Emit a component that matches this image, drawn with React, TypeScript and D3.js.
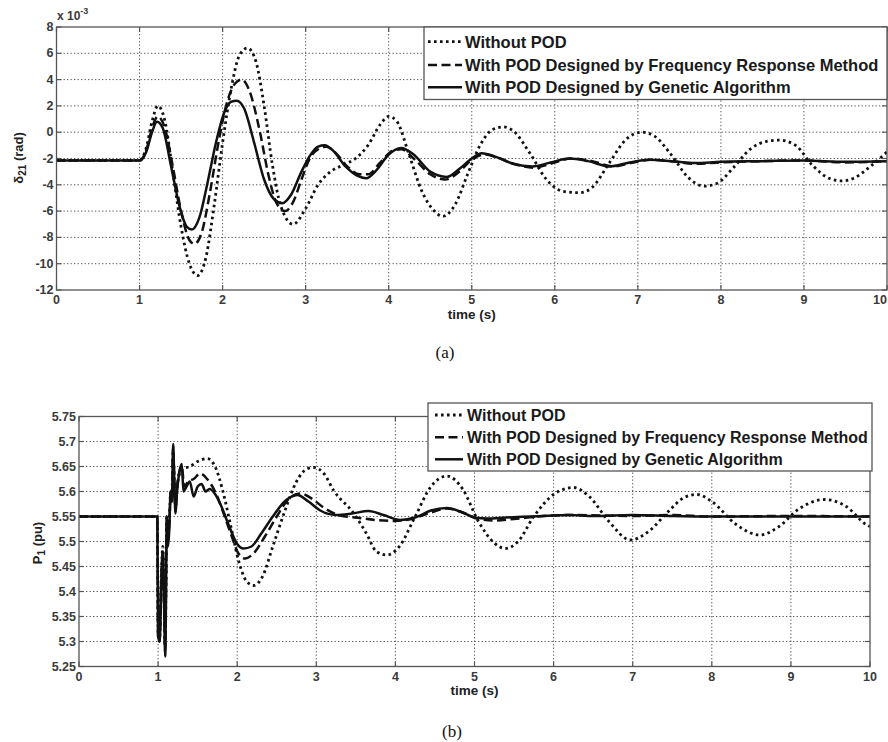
import React from "react";
import * as d3 from "d3";

type P = [number, number];

// ---------- DATA ----------
const xTicks = [0, 1, 2, 3, 4, 5, 6, 7, 8, 9, 10];
const topYTicks = [8, 6, 4, 2, 0, -2, -4, -6, -8, -10, -12];
const botYTicks = [5.75, 5.7, 5.65, 5.6, 5.55, 5.5, 5.45, 5.4, 5.35, 5.3, 5.25];
const botYTickLabels = ["5.75", "5.7", "5.65", "5.6", "5.55", "5.5", "5.45", "5.4", "5.35", "5.3", "5.25"];
const legendLabels = [
  "Without POD",
  "With POD Designed by Frequency Response Method",
  "With POD Designed by Genetic Algorithm",
];

// (a) delta21, x10^-3 rad
const topNoPod: P[] = [
  [0, -2.15], [1.0, -2.15], [1.08, -1.2], [1.15, 0.8], [1.22, 2.0], [1.3, 1.0], [1.4, -3.0], [1.5, -7.2],
  [1.6, -10.0], [1.7, -10.9], [1.8, -9.5], [1.9, -5.5], [2.0, -0.8], [2.1, 3.2], [2.2, 5.8], [2.3, 6.4],
  [2.4, 5.4], [2.5, 2.0], [2.6, -2.5], [2.7, -5.6], [2.85, -7.0], [3.0, -5.8], [3.15, -4.0], [3.3, -3.0],
  [3.45, -2.5], [3.6, -2.0], [3.75, -1.0], [3.9, 0.6], [4.0, 1.2], [4.1, 0.8], [4.25, -1.8], [4.4, -4.5],
  [4.55, -6.0], [4.65, -6.4], [4.8, -5.5], [4.95, -3.2], [5.1, -1.0], [5.25, 0.2], [5.38, 0.4], [5.5, 0.1],
  [5.7, -1.6], [5.9, -3.6], [6.1, -4.5], [6.3, -4.6], [6.45, -4.2], [6.65, -2.4], [6.85, -0.6], [7.05, 0.0],
  [7.2, -0.3], [7.4, -1.7], [7.6, -3.4], [7.8, -4.1], [7.95, -3.9], [8.15, -2.7], [8.35, -1.3], [8.55, -0.7],
  [8.7, -0.6], [8.9, -1.0], [9.1, -2.5], [9.3, -3.5], [9.45, -3.7], [9.6, -3.5], [9.8, -2.6], [10, -1.5],
];
const topFreq: P[] = [
  [0, -2.15], [1.0, -2.15], [1.08, -1.4], [1.15, 0.3], [1.22, 1.2], [1.3, 0.4], [1.4, -2.6], [1.5, -6.0],
  [1.6, -8.2], [1.66, -8.5], [1.75, -7.6], [1.85, -4.5], [1.95, -0.8], [2.05, 2.2], [2.15, 3.7], [2.23, 4.0],
  [2.32, 3.2], [2.45, 0.0], [2.55, -3.2], [2.65, -5.4], [2.75, -6.0], [2.85, -5.3], [2.95, -3.6], [3.05, -2.0],
  [3.15, -1.3], [3.25, -1.1], [3.35, -1.5], [3.5, -2.6], [3.65, -3.2], [3.75, -3.2], [3.9, -2.3], [4.05, -1.4],
  [4.15, -1.3], [4.3, -2.0], [4.5, -3.2], [4.68, -3.6], [4.85, -3.0], [5.0, -2.1], [5.15, -1.7], [5.3, -1.9],
  [5.5, -2.4], [5.75, -2.7], [5.95, -2.4], [6.2, -2.0], [6.45, -2.2], [6.7, -2.6], [6.95, -2.3], [7.15, -2.1],
  [7.4, -2.2], [7.7, -2.4], [8.0, -2.3], [8.5, -2.2], [9.0, -2.15], [9.5, -2.3], [10, -2.2],
];
const topGA: P[] = [
  [0, -2.15], [1.0, -2.15], [1.08, -1.5], [1.15, 0.0], [1.21, 0.8], [1.28, 0.3], [1.38, -2.6], [1.48, -5.6],
  [1.57, -7.2], [1.63, -7.4], [1.72, -6.5], [1.82, -3.8], [1.92, -0.8], [2.02, 1.5], [2.1, 2.3], [2.17, 2.4],
  [2.26, 1.8], [2.38, -0.8], [2.5, -3.6], [2.62, -5.1], [2.72, -5.4], [2.82, -4.8], [2.95, -3.0], [3.05, -1.8],
  [3.15, -1.1], [3.23, -1.0], [3.33, -1.4], [3.48, -2.6], [3.62, -3.3], [3.73, -3.5], [3.85, -2.9], [4.0, -1.7],
  [4.15, -1.2], [4.3, -1.7], [4.5, -3.0], [4.7, -3.4], [4.85, -2.8], [5.0, -2.0], [5.12, -1.6], [5.3, -1.9],
  [5.5, -2.4], [5.73, -2.6], [5.95, -2.3], [6.18, -2.0], [6.4, -2.2], [6.66, -2.6], [6.9, -2.3], [7.14, -2.1],
  [7.4, -2.2], [7.7, -2.35], [8.0, -2.25], [8.5, -2.2], [9.0, -2.15], [9.5, -2.25], [10, -2.2],
];

// (b) P1, pu
const botNoPod: P[] = [
  [0, 5.55], [0.99, 5.55], [1.0, 5.32], [1.02, 5.31], [1.04, 5.43], [1.06, 5.49], [1.075, 5.39], [1.09, 5.29],
  [1.1, 5.41], [1.11, 5.55], [1.125, 5.51], [1.14, 5.54], [1.16, 5.6], [1.175, 5.59], [1.19, 5.68], [1.205, 5.62],
  [1.22, 5.57], [1.25, 5.62], [1.3, 5.645], [1.4, 5.65], [1.5, 5.66], [1.62, 5.666], [1.72, 5.65], [1.82, 5.6],
  [1.92, 5.53], [2.02, 5.46], [2.12, 5.42], [2.21, 5.412], [2.32, 5.43], [2.45, 5.49], [2.6, 5.56], [2.75, 5.62],
  [2.88, 5.645], [2.97, 5.648], [3.1, 5.635], [3.22, 5.602], [3.47, 5.557], [3.63, 5.517], [3.76, 5.48],
  [3.89, 5.473], [4.05, 5.49], [4.25, 5.55], [4.45, 5.61], [4.65, 5.631], [4.85, 5.605], [5.05, 5.54],
  [5.25, 5.497], [5.39, 5.486], [5.55, 5.5], [5.75, 5.55], [6.0, 5.594], [6.25, 5.608], [6.45, 5.59], [6.7, 5.54],
  [6.97, 5.503], [7.2, 5.52], [7.45, 5.56], [7.65, 5.588], [7.81, 5.594], [8.0, 5.58], [8.3, 5.535], [8.61, 5.513],
  [8.85, 5.53], [9.1, 5.565], [9.43, 5.584], [9.7, 5.57], [9.96, 5.533], [10, 5.53],
];
const botFreq: P[] = [
  [0, 5.55], [0.99, 5.55], [1.0, 5.31], [1.02, 5.3], [1.04, 5.42], [1.06, 5.48], [1.075, 5.38], [1.09, 5.28],
  [1.1, 5.4], [1.11, 5.55], [1.125, 5.5], [1.14, 5.53], [1.16, 5.6], [1.175, 5.58], [1.19, 5.69], [1.205, 5.62],
  [1.22, 5.56], [1.24, 5.61], [1.27, 5.64], [1.3, 5.65], [1.33, 5.61], [1.38, 5.62], [1.45, 5.625], [1.53, 5.636],
  [1.62, 5.625], [1.72, 5.6], [1.82, 5.56], [1.92, 5.515], [2.02, 5.475], [2.1, 5.466], [2.2, 5.475], [2.35, 5.51],
  [2.5, 5.55], [2.65, 5.585], [2.8, 5.596], [2.95, 5.585], [3.1, 5.567], [3.3, 5.552], [3.5, 5.548], [3.75, 5.543],
  [4.0, 5.541], [4.2, 5.545], [4.45, 5.558], [4.65, 5.566], [4.85, 5.558], [5.05, 5.545], [5.25, 5.542],
  [5.5, 5.545], [5.8, 5.55], [6.2, 5.553], [6.6, 5.552], [7.0, 5.551], [7.5, 5.553], [8.0, 5.55], [9.0, 5.551], [10, 5.55],
];
const botGA: P[] = [
  [0, 5.55], [0.99, 5.55], [1.0, 5.31], [1.02, 5.3], [1.04, 5.42], [1.06, 5.48], [1.075, 5.38], [1.09, 5.27],
  [1.1, 5.4], [1.11, 5.55], [1.125, 5.49], [1.14, 5.52], [1.16, 5.6], [1.175, 5.58], [1.19, 5.695], [1.205, 5.62],
  [1.22, 5.556], [1.24, 5.6], [1.27, 5.64], [1.3, 5.655], [1.32, 5.6], [1.36, 5.61], [1.4, 5.62], [1.45, 5.59],
  [1.5, 5.61], [1.55, 5.615], [1.6, 5.6], [1.65, 5.605], [1.72, 5.595], [1.8, 5.57], [1.9, 5.53], [2.0, 5.495],
  [2.08, 5.486], [2.18, 5.49], [2.3, 5.515], [2.45, 5.55], [2.6, 5.58], [2.76, 5.593], [2.9, 5.58], [3.05, 5.562],
  [3.25, 5.553], [3.45, 5.556], [3.66, 5.561], [3.85, 5.553], [4.06, 5.543], [4.25, 5.548], [4.45, 5.562],
  [4.65, 5.567], [4.85, 5.558], [5.0, 5.548], [5.16, 5.546], [5.4, 5.548], [5.7, 5.55], [6.0, 5.552], [6.2, 5.553],
  [6.5, 5.551], [7.0, 5.553], [7.5, 5.551], [8.0, 5.55], [9.0, 5.55], [10, 5.55],
];

// ---------- STYLES ----------
const seriesStyle = [
  { dash: "2.6,3.4", width: 2.8 },
  { dash: "9,4.5", width: 2.5 },
  { dash: "none", width: 2.5 },
];
const FONT = "'Liberation Sans', Arial, Helvetica, sans-serif";
const AXIS_COLOR = "#555";
const TEXT_COLOR = "#3a3a3a";

type PanelProps = {
  id: string;
  box: { left: number; right: number; top: number; bottom: number };
  yDomain: [number, number];
  yTicks: number[];
  yTickLabels: string[];
  series: P[][];
  legend: { left: number; right: number; top: number; bottom: number; rows: number[]; lineX0: number; lineX1: number; textX: number; fontSize: number };
};

function Panel({ id, box, yDomain, yTicks, yTickLabels, series, legend }: PanelProps) {
  const x = d3.scaleLinear().domain([0, 10]).range([box.left, box.right]);
  const y = d3.scaleLinear().domain(yDomain).range([box.bottom, box.top]);
  const line = d3
    .line<P>()
    .x((d) => x(d[0]))
    .y((d) => y(d[1]))
    .curve(d3.curveMonotoneX);
  const tl = 5;
  return (
    <g>
      <defs>
        <clipPath id={id}>
          <rect x={box.left} y={box.top} width={box.right - box.left} height={box.bottom - box.top} />
        </clipPath>
      </defs>
      <rect x={box.left} y={box.top} width={box.right - box.left} height={box.bottom - box.top} fill="#fff" />
      {/* grid */}
      {xTicks.slice(1, -1).map((t) => (
        <line key={"gx" + t} x1={x(t)} x2={x(t)} y1={box.top} y2={box.bottom} stroke="#555" strokeWidth={1} strokeDasharray="1.3,2.2" />
      ))}
      {yTicks.slice(1, -1).map((t) => (
        <line key={"gy" + t} x1={box.left} x2={box.right} y1={y(t)} y2={y(t)} stroke="#555" strokeWidth={1} strokeDasharray="1.3,2.2" />
      ))}
      {/* ticks */}
      {xTicks.map((t) => {
        const px = x(t);
        const overflow = px + 8 > 888;
        return (
          <g key={"tx" + t}>
            <line x1={px} x2={px} y1={box.bottom} y2={box.bottom - tl} stroke={AXIS_COLOR} strokeWidth={1.2} />
            <line x1={px} x2={px} y1={box.top} y2={box.top + tl} stroke={AXIS_COLOR} strokeWidth={1.2} />
            <text
              x={overflow ? 887 : px}
              y={box.bottom + 10}
              textAnchor={overflow ? "end" : "middle"}
              dominantBaseline="central"
              fontSize={12.5}
              fontWeight="bold"
              fontFamily={FONT}
              fill={TEXT_COLOR}
            >
              {t}
            </text>
          </g>
        );
      })}
      {yTicks.map((t, i) => (
        <g key={"ty" + t}>
          <line x1={box.left} x2={box.left + tl} y1={y(t)} y2={y(t)} stroke={AXIS_COLOR} strokeWidth={1.2} />
          <line x1={box.right} x2={box.right - tl} y1={y(t)} y2={y(t)} stroke={AXIS_COLOR} strokeWidth={1.2} />
          <text x={box.left - 3} y={y(t)} textAnchor="end" dominantBaseline="central" fontSize={12.5} fontWeight="bold" fontFamily={FONT} fill={TEXT_COLOR}>
            {yTickLabels[i]}
          </text>
        </g>
      ))}
      {/* series */}
      <g clipPath={`url(#${id})`}>
        {series.map((s, i) => (
          <path
            key={i}
            d={line(s) || ""}
            fill="none"
            stroke="#111"
            strokeWidth={seriesStyle[i].width}
            strokeDasharray={seriesStyle[i].dash}
            strokeLinejoin="round"
          />
        ))}
      </g>
      <rect x={box.left} y={box.top} width={box.right - box.left} height={box.bottom - box.top} fill="none" stroke={AXIS_COLOR} strokeWidth={1.3} />
      {/* legend */}
      <rect x={legend.left} y={legend.top} width={legend.right - legend.left} height={legend.bottom - legend.top} fill="#fff" stroke={AXIS_COLOR} strokeWidth={1.3} />
      {legendLabels.map((lab, i) => (
        <g key={"lg" + i}>
          <line
            x1={legend.lineX0}
            x2={legend.lineX1}
            y1={legend.rows[i]}
            y2={legend.rows[i]}
            stroke="#111"
            strokeWidth={seriesStyle[i].width}
            strokeDasharray={seriesStyle[i].dash}
          />
          <text x={legend.textX} y={legend.rows[i]} dominantBaseline="central" fontSize={legend.fontSize} fontWeight="bold" fontFamily={FONT} fill="#1a1a1a">
            {lab}
          </text>
        </g>
      ))}
      <text x={(box.left + box.right) / 2} y={box.bottom + 24} textAnchor="middle" dominantBaseline="central" fontSize={13.5} fontWeight="bold" fontFamily={FONT} fill="#222">
        time (s)
      </text>
    </g>
  );
}

export default function App() {
  return (
    <svg width={888} height={742} style={{ position: "absolute", left: 0, top: 0, background: "#fff" }}>
      <rect width={888} height={742} fill="#fff" />
      <Panel
        id="clipA"
        box={{ left: 56.5, right: 887, top: 27, bottom: 290 }}
        yDomain={[-12, 8]}
        yTicks={topYTicks}
        yTickLabels={topYTicks.map(String)}
        series={[topNoPod, topFreq, topGA]}
        legend={{ left: 424, right: 887, top: 27, bottom: 99.5, rows: [41.7, 65, 87.3], lineX0: 428, lineX1: 462, textX: 465, fontSize: 16.5 }}
      />
      <text x={57} y={20} fontSize={12} fontWeight="bold" fontFamily={FONT} fill={TEXT_COLOR}>
        x 10
        <tspan dy={-6} fontSize={9}>-3</tspan>
      </text>
      <text transform="translate(18,158) rotate(-90)" textAnchor="middle" dominantBaseline="central" fontSize={13} fontWeight="bold" fontFamily={FONT} fill="#222">
        δ<tspan dy={4} fontSize={10}>21</tspan>
        <tspan dy={-4}> (rad)</tspan>
      </text>
      <text x={445} y={352} textAnchor="middle" dominantBaseline="central" fontSize={17} fontFamily="'Liberation Serif', 'Times New Roman', serif" fill="#111">
        (a)
      </text>

      <Panel
        id="clipB"
        box={{ left: 79, right: 870, top: 416.5, bottom: 666.5 }}
        yDomain={[5.25, 5.75]}
        yTicks={botYTicks}
        yTickLabels={botYTickLabels}
        series={[botNoPod, botFreq, botGA]}
        legend={{ left: 428, right: 872, top: 403, bottom: 471, rows: [415, 437.3, 459.3], lineX0: 435, lineX1: 463, textX: 467, fontSize: 16 }}
      />
      <text transform="translate(37,543) rotate(-90)" textAnchor="middle" dominantBaseline="central" fontSize={13} fontWeight="bold" fontFamily={FONT} fill="#222">
        P<tspan dy={4} fontSize={10}>1</tspan>
        <tspan dy={-4}> (pu)</tspan>
      </text>
      <text x={452} y={731} textAnchor="middle" dominantBaseline="central" fontSize={17} fontFamily="'Liberation Serif', 'Times New Roman', serif" fill="#111">
        (b)
      </text>
    </svg>
  );
}
